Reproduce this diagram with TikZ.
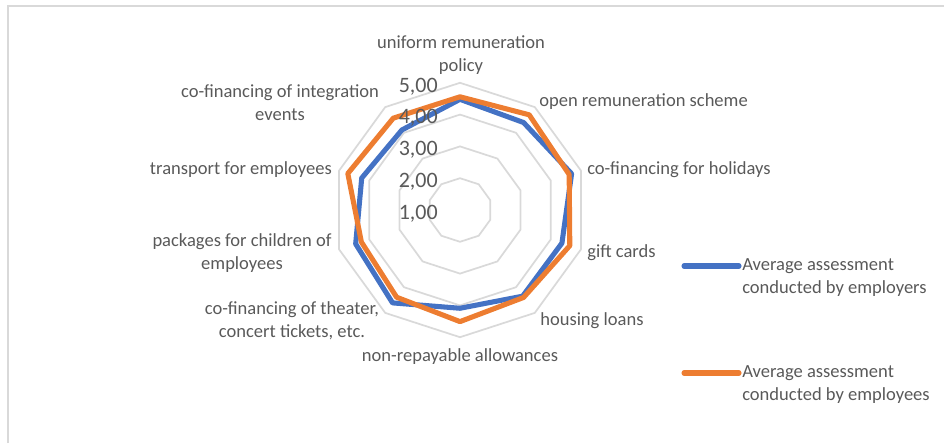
\documentclass[tikz,border=0pt]{standalone}
\usepackage{fontspec}
\setmainfont{Carlito}
\usepackage{tikz}
\usetikzlibrary{positioning}
\definecolor{gridgray}{HTML}{D9D9D9}
\definecolor{labelgray}{HTML}{595959}
\definecolor{seriesblue}{HTML}{4472C4}
\definecolor{seriesorange}{HTML}{ED7D31}

\begin{document}
\begin{tikzpicture}[x=0.75pt,y=0.75pt, grid/.style={draw=gridgray,line width=1.3pt}, series/.style={line width=3.8pt,line join=round}, catlabel/.style={text=labelgray,font=\fontsize{13.9}{17.25}\selectfont,align=center,inner sep=0pt}, vallabel/.style={catlabel,anchor=east,font=\fontsize{16.5}{18}\selectfont}]
         \useasboundingbox (0,0) rectangle (944,443);
         \draw[gridgray,line width=1.5pt] (7.5,0) -- (7.5,436.5) -- (944,436.5);
         \begin{scope}[shift={(460,233)}]
         \foreach \r in {31.8,63.6,95.4,127.2} \draw[grid] (90:\r) \foreach \a in {54,18,-18,-54,-90,-126,-162,-198,-234} { -- (\a:\r) } -- cycle;
         \foreach \v [count=\i from 0] in {4.48,4.40,4.69,4.37,4.35,4.09,4.61,4.45,4.25,4.11} \coordinate (er\i) at ({90-36*\i}:{(\v-1)*31.8});
         \foreach \v [count=\i from 0] in {4.56,4.70,4.61,4.63,4.40,4.51,4.39,4.26,4.71,4.57} \coordinate (ee\i) at ({90-36*\i}:{(\v-1)*31.8});
         \draw[series,seriesblue] (er0) -- (er1) -- (er2) -- (er3) -- (er4) -- (er5) -- (er6) -- (er7) -- (er8) -- (er9) -- cycle;
         \draw[series,seriesorange] (ee0) -- (ee1) -- (ee2) -- (ee3) -- (ee4) -- (ee5) -- (ee6) -- (ee7) -- (ee8) -- (ee9) -- cycle;
         \foreach \v [count=\i from 0] in {1,2,3,4,5} \node[vallabel] (val\v) at (-22,{\i*31.8-3.5}) {\v,00};
         \end{scope}
         \node[catlabel] (uniform) at (461,388) {uniform remuneration\\policy};
         \node[catlabel,anchor=west] (open) at (539,341) {open remuneration scheme};
         \node[catlabel,anchor=west] (holidays) at (587,273) {co-financing for holidays};
         \node[catlabel,anchor=west] (gift) at (587,190) {gift cards};
         \node[catlabel,anchor=west] (housing) at (540,122) {housing loans};
         \node[catlabel] (allowances) at (460,86) {non-repayable allowances};
         \node[catlabel] (theater) at (292,122) {co-financing of theater,\\concert tickets, etc.};
         \node[catlabel] (packages) at (242,189.5) {packages for children of\\employees};
         \node[catlabel,anchor=east] (transport) at (332,273) {transport for employees};
         \node[catlabel] (integration) at (280,340.5) {co-financing of integration\\events};
         \coordinate (kb) at (684,177);
         \coordinate (ko) at (684,70);
         \draw[series,seriesblue,line cap=round] (kb) -- ++(55,0) coordinate (kb');
         \draw[series,seriesorange,line cap=round] (ko) -- ++(55,0) coordinate (ko');
         \node[catlabel,align=left,anchor=west] (employers) at (742,165.5) {Average assessment\\conducted by employers};
         \node[catlabel,align=left,anchor=west] (employees) at (742,58.5) {Average assessment\\conducted by employees};
 \end{tikzpicture}
\end{document}
